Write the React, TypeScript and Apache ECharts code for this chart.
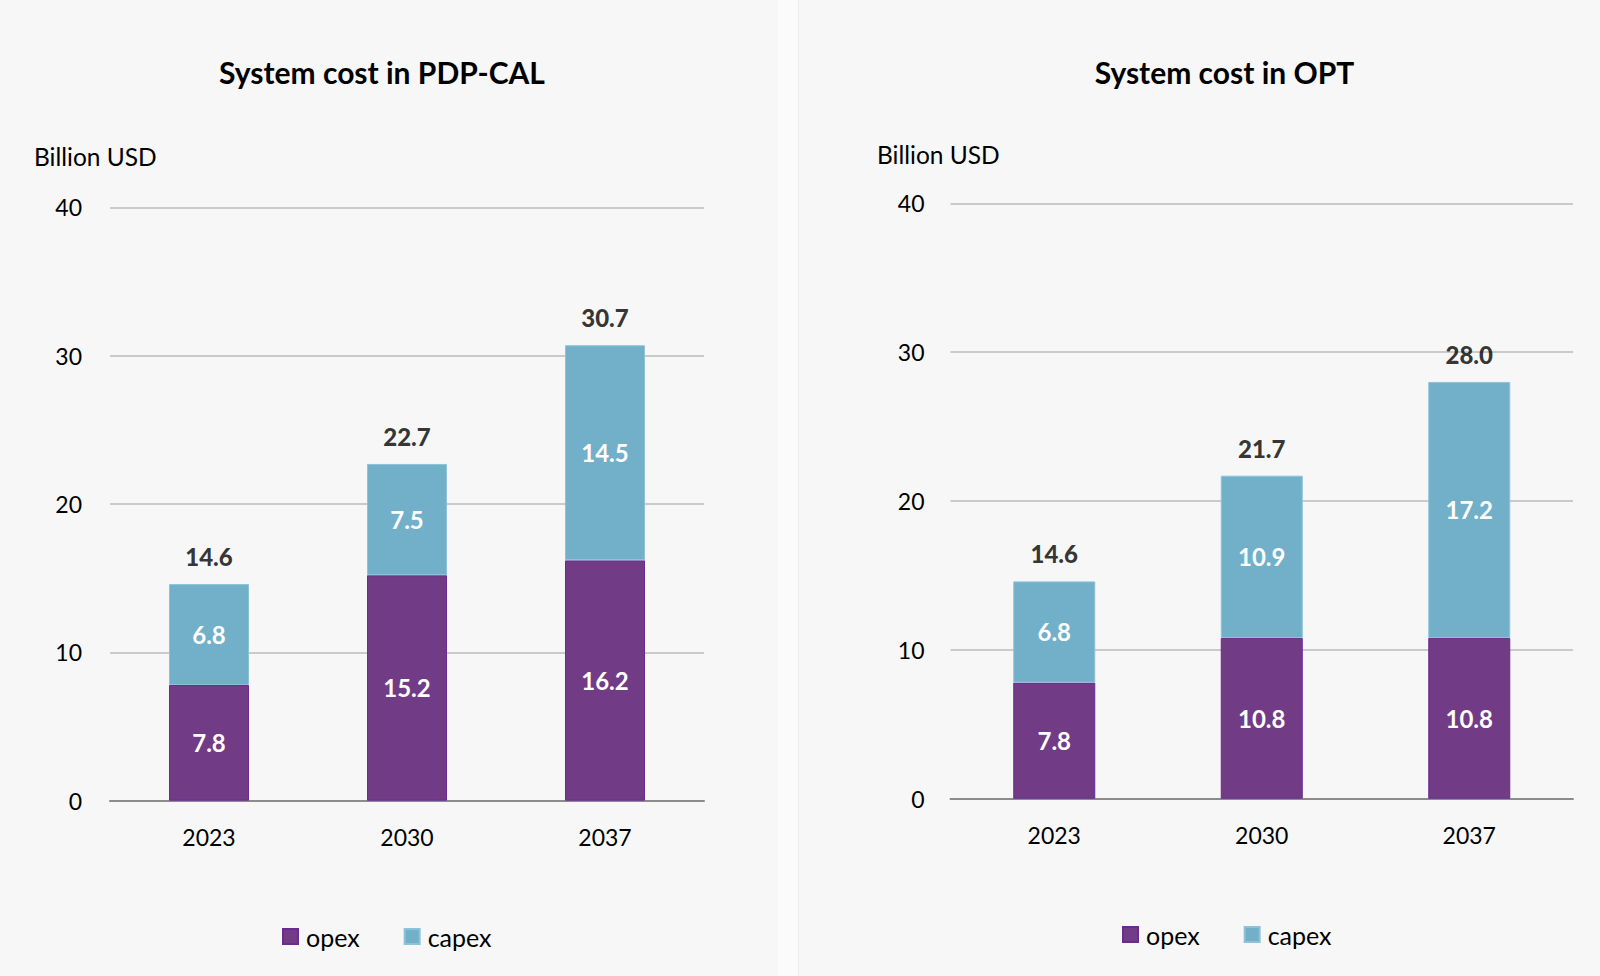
import React, { useEffect, useRef } from "react";
import * as echarts from "echarts";

const categories = ["2023", "2030", "2037"];
const leftTitle = "System cost in PDP-CAL";
const rightTitle = "System cost in OPT";
const unitLabel = "Billion USD";
const yTicks = [0, 10, 20, 30, 40];

const leftOpex = [7.8, 15.2, 16.2];
const leftCapex = [6.8, 7.5, 14.5];
const leftTotal = [14.6, 22.7, 30.7];

const rightOpex = [7.8, 10.8, 10.8];
const rightCapex = [6.8, 10.9, 17.2];
const rightTotal = [14.6, 21.7, 28.0];

const FONT = "Lato";
const OPEX = "#723b86";
const CAPEX = "#72afc9";

export default function App() {
  const ref = useRef<HTMLDivElement>(null);
  useEffect(() => {
    if (!ref.current) return;
    const chart = echarts.init(ref.current, undefined, { renderer: "svg" });

    const grids = [
      { left: 110, top: 207.3, width: 594, height: 593.4 },
      { left: 950.5, top: 203.3, width: 622.5, height: 595.4 },
    ];

    const xAxis = grids.map((_, i) => ({
      type: "category",
      gridIndex: i,
      data: categories,
      axisTick: { show: false },
      axisLine: { lineStyle: { color: "#8c8c8c", width: 2 } },
      axisLabel: { color: "#000", fontSize: 23, fontFamily: FONT, margin: 25 },
    }));
    const yAxis = grids.map((_, i) => ({
      type: "value",
      gridIndex: i,
      min: yTicks[0],
      max: yTicks[yTicks.length - 1],
      interval: 10,
      axisLine: { show: false },
      axisTick: { show: false },
      splitLine: { lineStyle: { color: "#cacaca", width: 2 } },
      axisLabel: { color: "#000", fontSize: 23, fontFamily: FONT, margin: i === 0 ? 28 : 26 },
    }));

    const insideLabel = {
      show: true,
      position: "inside",
      color: "#fff",
      fontSize: 24,
      fontWeight: "bold",
      fontFamily: FONT,
      formatter: (p: any) => Number(p.value).toFixed(1),
    };

    const makeSeries = (i: number, opex: number[], capex: number[], total: number[], bw: number) => [
      {
        name: "opex",
        type: "bar",
        xAxisIndex: i,
        yAxisIndex: i,
        stack: "s" + i,
        barWidth: bw,
        data: opex,
        itemStyle: { color: OPEX, borderColor: "#6a2a8f", borderWidth: 1 },
        label: insideLabel,
      },
      {
        name: "capex",
        type: "bar",
        xAxisIndex: i,
        yAxisIndex: i,
        stack: "s" + i,
        barWidth: bw,
        data: capex,
        itemStyle: { color: CAPEX, borderColor: "#8cc3d9", borderWidth: 1 },
        label: insideLabel,
      },
      {
        name: "total",
        type: "scatter",
        xAxisIndex: i,
        yAxisIndex: i,
        symbolSize: 1,
        data: total,
        itemStyle: { color: "rgba(0,0,0,0)" },
        label: {
          show: true,
          position: "top",
          distance: 15,
          color: "#000",
          fontSize: 24,
          fontWeight: 900,
          fontFamily: FONT,
          formatter: (p: any) => Number(p.value).toFixed(1),
        },
      },
    ];

    const legendBase = {
      data: ["opex", "capex"],
      icon: "rect",
      itemWidth: 15,
      itemHeight: 15,
      itemGap: 44,
      selectedMode: false,
      textStyle: { color: "#000", fontSize: 25, fontFamily: FONT, padding: [0, 0, 0, 3] },
    };

    const titleStyle = { fontSize: 30, fontWeight: "bold", fontFamily: FONT, color: "#000" };

    const option: any = {
      animation: false,
      backgroundColor: "#fbfbfb",
      title: [
        {
          text: leftTitle,
          left: 377,
          top: 52,
          textAlign: "center",
          textStyle: titleStyle,
        },
        {
          text: rightTitle,
          left: 1219.5,
          top: 52,
          textAlign: "center",
          textStyle: titleStyle,
        },
      ],
      graphic: [
        { type: "rect", z: -10, shape: { x: 0, y: 0, width: 778, height: 976 }, style: { fill: "#f7f7f7" } },
        { type: "rect", z: -10, shape: { x: 799, y: 0, width: 801, height: 976 }, style: { fill: "#f7f7f7" } },
        { type: "line", z: -9, shape: { x1: 798.5, y1: 0, x2: 798.5, y2: 976 }, style: { stroke: "#ededed", lineWidth: 1 } },
        {
          type: "text",
          x: 34,
          y: 156,
          style: { text: unitLabel, fontSize: 24.5, fontFamily: FONT, fill: "#000", align: "left", verticalAlign: "middle" },
        },
        {
          type: "text",
          x: 877,
          y: 154,
          style: { text: unitLabel, fontSize: 24.5, fontFamily: FONT, fill: "#000", align: "left", verticalAlign: "middle" },
        },
      ],
      legend: [
        { ...legendBase, left: 277, top: 919 },
        { ...legendBase, left: 1117, top: 917 },
      ],
      grid: grids,
      xAxis,
      yAxis,
      series: [
        ...makeSeries(0, leftOpex, leftCapex, leftTotal, 80),
        ...makeSeries(1, rightOpex, rightCapex, rightTotal, 82),
      ],
    };
    chart.setOption(option);
    return () => chart.dispose();
  }, []);

  return (
    <div
      ref={ref}
      style={{ position: "fixed", left: 0, top: 0, width: 1600, height: 976 }}
    />
  );
}
